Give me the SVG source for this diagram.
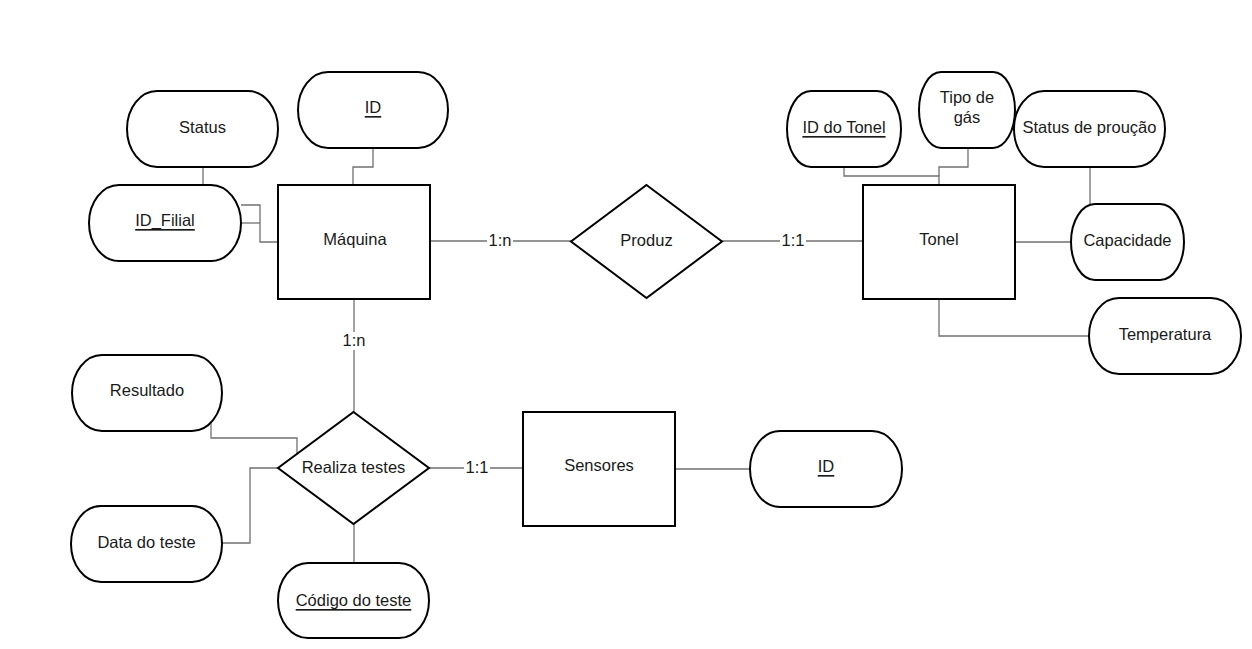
<svg xmlns="http://www.w3.org/2000/svg" width="1252" height="649" viewBox="0 0 1252 649">
  <style>
    .ent { fill: #fff; stroke: #000; stroke-width: 2; }
    .attr { fill: #fff; stroke: #000; stroke-width: 2; }
    .rel { fill: #fff; stroke: #000; stroke-width: 2; stroke-linejoin: miter; }
    .lbl { font-family: "Liberation Sans", Arial, sans-serif; font-size: 16.5px; fill: #1a1a1a; text-anchor: middle; dominant-baseline: central; }
    .key { text-decoration: underline; }
    .edge { fill: none; stroke: #707070; stroke-width: 1.3; }
    .card { font-family: "Liberation Sans", Arial, sans-serif; font-size: 16.5px; fill: #1a1a1a; text-anchor: middle; dominant-baseline: central; }
    .cardbg { fill: #fff; }
  </style>
  <rect width="1252" height="649" fill="#fff"/>

  <!-- connectors -->
  <g id="connectors">
    <!-- Máquina attributes -->
    <path class="edge" d="M203 167 V185"/>
    <path class="edge" d="M373 148 V167 H353 V185"/>
    <path class="edge" d="M241 205 H260 V242 H278"/>
    <path class="edge" d="M241 223 H260"/>
    <!-- Máquina - Produz - Tonel -->
    <path class="edge" d="M430 241 H571"/>
    <path class="edge" d="M722 241 H863"/>
    <!-- Tonel attributes -->
    <path class="edge" d="M844 167 V176 H939 V185"/>
    <path class="edge" d="M968 148 V167 H939 V176"/>
    <path class="edge" d="M1090 167 V204"/>
    <path class="edge" d="M1015 242 H1071"/>
    <path class="edge" d="M939 299 V336 H1089"/>
    <!-- Máquina - Realiza testes - Sensores -->
    <path class="edge" d="M354 299 V412"/>
    <path class="edge" d="M429 468 H523"/>
    <path class="edge" d="M675 469 H750"/>
    <!-- Realiza testes attributes -->
    <path class="edge" d="M211 420 V438 H297 V454"/>
    <path class="edge" d="M278 468 H250 V543 H222"/>
    <path class="edge" d="M354 524 V563"/>

    <!-- cardinality labels -->
    <rect class="cardbg" x="487" y="232" width="26" height="18"/>
    <text class="card" x="500" y="240">1:n</text>
    <rect class="cardbg" x="780" y="232" width="26" height="18"/>
    <text class="card" x="793" y="240">1:1</text>
    <rect class="cardbg" x="341" y="332" width="26" height="18"/>
    <text class="card" x="354" y="340">1:n</text>
    <rect class="cardbg" x="464" y="459" width="26" height="18"/>
    <text class="card" x="477" y="467">1:1</text>
  </g>

  <!-- entities -->
  <g id="maquina">
    <rect class="ent" x="278" y="185" width="152" height="114"/>
    <text class="lbl" x="355" y="239">Máquina</text>
  </g>
  <g id="tonel">
    <rect class="ent" x="863" y="185" width="152" height="114"/>
    <text class="lbl" x="939" y="239">Tonel</text>
  </g>
  <g id="sensores">
    <rect class="ent" x="523" y="412" width="152" height="114"/>
    <text class="lbl" x="599" y="465">Sensores</text>
  </g>

  <!-- relationships -->
  <g id="produz">
    <polygon class="rel" points="646.5,185 722,241.5 646.5,298 571,241.5"/>
    <text class="lbl" x="646.5" y="240">Produz</text>
  </g>
  <g id="realiza-testes">
    <polygon class="rel" points="353.5,412 429,468 353.5,524 278,468"/>
    <text class="lbl" x="353.5" y="467">Realiza testes</text>
  </g>

  <!-- attributes of Máquina -->
  <g id="attr-status">
    <rect class="attr" x="127" y="91" width="151" height="76" rx="30" ry="38"/>
    <text class="lbl" x="202.5" y="127">Status</text>
  </g>
  <g id="attr-maquina-id">
    <rect class="attr" x="298" y="72" width="150" height="76" rx="30" ry="38"/>
    <text class="lbl key" x="373" y="107">ID</text>
  </g>
  <g id="attr-id-filial">
    <rect class="attr" x="89" y="185" width="152" height="76" rx="30" ry="38"/>
    <text class="lbl key" x="165" y="220">ID_Filial</text>
  </g>

  <!-- attributes of Tonel -->
  <g id="attr-id-tonel">
    <rect class="attr" x="787" y="91" width="114" height="76" rx="24" ry="38"/>
    <text class="lbl key" x="844" y="127">ID do Tonel</text>
  </g>
  <g id="attr-tipo-gas">
    <rect class="attr" x="919" y="72" width="96" height="76" rx="22" ry="38"/>
    <text class="lbl" x="967" y="97">Tipo de</text>
    <text class="lbl" x="967" y="117">gás</text>
  </g>
  <g id="attr-status-producao">
    <rect class="attr" x="1014" y="91" width="151" height="76" rx="30" ry="38"/>
    <text class="lbl" x="1089.5" y="127">Status de proução</text>
  </g>
  <g id="attr-capacidade">
    <rect class="attr" x="1071" y="204" width="113" height="76" rx="24" ry="38"/>
    <text class="lbl" x="1127.5" y="240">Capacidade</text>
  </g>
  <g id="attr-temperatura">
    <rect class="attr" x="1089" y="298" width="152" height="76" rx="30" ry="38"/>
    <text class="lbl" x="1165" y="334">Temperatura</text>
  </g>

  <!-- attributes of Realiza testes -->
  <g id="attr-resultado">
    <rect class="attr" x="72" y="355" width="150" height="76" rx="30" ry="38"/>
    <text class="lbl" x="147" y="390">Resultado</text>
  </g>
  <g id="attr-data-teste">
    <rect class="attr" x="71" y="506" width="151" height="76" rx="30" ry="38"/>
    <text class="lbl" x="146.5" y="542">Data do teste</text>
  </g>
  <g id="attr-codigo-teste">
    <rect class="attr" x="278" y="563" width="151" height="75" rx="30" ry="37.5"/>
    <text class="lbl key" x="353.5" y="600">Código do teste</text>
  </g>

  <!-- attribute of Sensores -->
  <g id="attr-sensor-id">
    <rect class="attr" x="750" y="431" width="152" height="76" rx="30" ry="38"/>
    <text class="lbl key" x="826" y="466">ID</text>
  </g>
</svg>
